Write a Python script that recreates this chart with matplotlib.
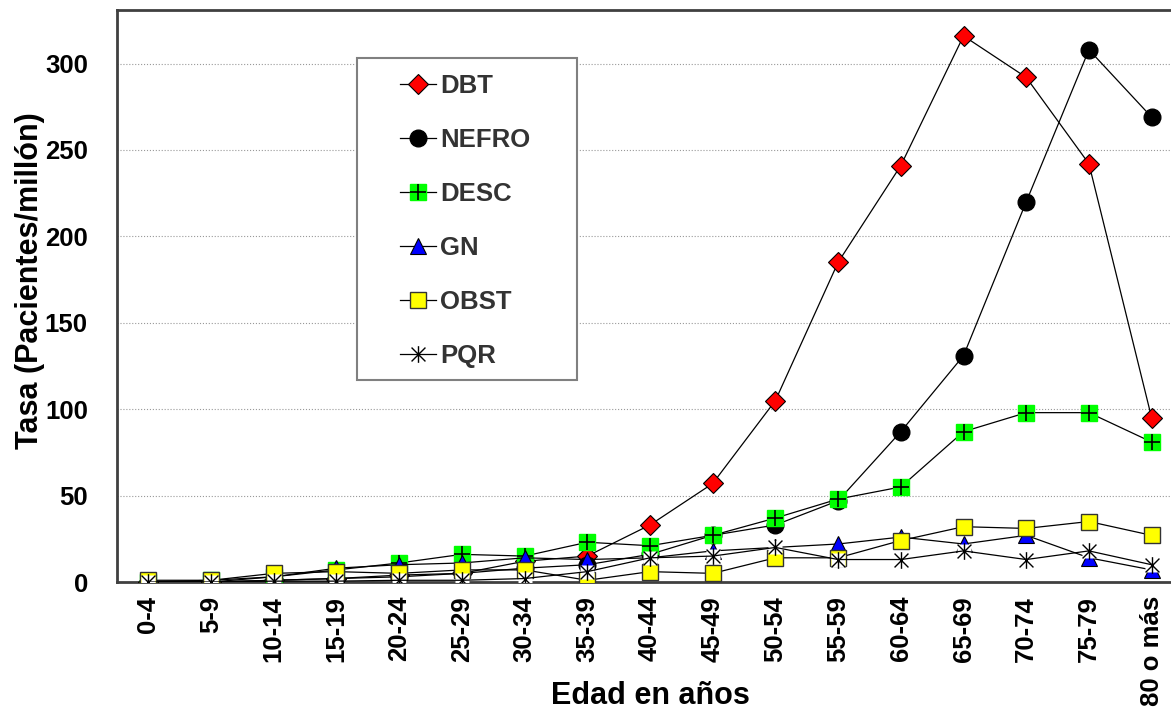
import matplotlib
matplotlib.use("Agg")
import matplotlib.pyplot as plt
from matplotlib.path import Path
from matplotlib.patches import Rectangle
from matplotlib.legend_handler import HandlerTuple

plt.rcParams['font.family'] = ['Liberation Sans', 'DejaVu Sans']
plt.rcParams['font.weight'] = 'bold'

edades = ['0-4', '5-9', '10-14', '15-19', '20-24', '25-29', '30-34', '35-39',
          '40-44', '45-49', '50-54', '55-59', '60-64', '65-69', '70-74',
          '75-79', '80 o más']

dbt = [0, 0, 1, 2, 4, 5, 12, 15, 33, 57, 105, 185, 241, 316, 292, 242, 95]
nefro = [0, 0, 1, 2, 3, 5, 8, 10, 16, 27, 33, 47, 87, 131, 220, 308, 269]
desc = [0, 1, 3, 7, 11, 16, 15, 23, 21, 27, 37, 48, 55, 87, 98, 98, 81]
gn = [0, 0, 3, 8, 10, 11, 14, 13, 14, 18, 20, 22, 26, 22, 27, 14, 7]
obst = [1, 1, 5, 6, 5, 7, 7, 1, 6, 5, 14, 14, 24, 32, 31, 35, 27]
pqr = [0, 0, 0.5, 0.5, 1, 1, 2, 6, 14, 15, 20, 13, 13, 18, 13, 18, 10]

# marcador tipo asterisco de Excel (X con barra vertical)
star = Path([(-1, -1), (1, 1), (-1, 1), (1, -1), (0, -1.2), (0, 1.2)],
            [Path.MOVETO, Path.LINETO, Path.MOVETO, Path.LINETO, Path.MOVETO, Path.LINETO])

x = list(range(len(edades)))
W, H = 1171, 711

fig = plt.figure(figsize=(W / 100, H / 100), dpi=100)
ax = fig.add_axes([117 / W, 129 / H, 1066 / W, 572 / H])

lw = 0.9
h_dbt, = ax.plot(x, dbt, color='black', lw=lw, marker='D', ms=10, mfc='red', mec='black', mew=0.8, zorder=3)
h_nef, = ax.plot(x, nefro, color='black', lw=lw, marker='o', ms=12, mfc='black', mec='black', zorder=3)
h_desc, = ax.plot(x, desc, color='black', lw=lw, marker='s', ms=11, mfc='#00ff00', mec='#00ff00', zorder=3)
h_desc2, = ax.plot(x, desc, ls='none', marker='+', ms=12, mec='black', mew=1.2, zorder=3)
h_gn, = ax.plot(x, gn, color='black', lw=lw, marker='^', ms=11, mfc='#0000ff', mec='black', mew=0.8, zorder=3)
h_obst, = ax.plot(x, obst, color='black', lw=lw, marker='s', ms=11, mfc='#ffff00', mec='#333333', mew=1, zorder=3)
ax.plot(x, pqr, ls='none', marker='s', ms=10, mfc='white', mec='none', zorder=3)
h_pqr, = ax.plot(x, pqr, color='black', lw=lw, marker=star, ms=12, mec='black', mew=1, zorder=3)

ax.set_xlim(-0.5, len(edades) - 0.5)
ax.set_ylim(0, 331)
ax.set_yticks([0, 50, 100, 150, 200, 250, 300])
ax.set_xticks(x)
ax.set_xticklabels(edades, rotation=90, fontsize=18.5, fontweight='bold')
ax.tick_params(axis='y', labelsize=18.5, length=0, pad=21)
ax.tick_params(axis='x', length=0, pad=10)
ax.yaxis.grid(True, color='#999999', ls=':', lw=0.8)
ax.set_axisbelow(True)
for s in ax.spines.values():
    s.set_color('#404040')
    s.set_linewidth(2)

fig.text(650 / W, 1 - 696 / H, 'Edad en años', fontsize=22, fontweight='bold',
         ha='center', va='center')
fig.text(30 / W, 1 - 281 / H, 'Tasa (Pacientes/millón)', fontsize=22, fontweight='bold',
         ha='center', va='center', rotation=90)

# caja de la leyenda dibujada aparte (relleno horizontal mayor que vertical)
caja = Rectangle((357 / W, 1 - 380 / H), 220 / W, 322 / H, transform=fig.transFigure,
                 facecolor='white', edgecolor='#808080', lw=1.5, zorder=4, clip_on=False)
ax.add_patch(caja)

leg = ax.legend([h_dbt, h_nef, (h_desc, h_desc2), h_gn, h_obst, h_pqr],
                ['DBT', 'NEFRO', 'DESC', 'GN', 'OBST', 'PQR'],
                handler_map={tuple: HandlerTuple(ndivide=1, pad=0)},
                loc='upper left', bbox_to_anchor=(400 / W, 1 - 74 / H),
                bbox_transform=fig.transFigure,
                fontsize=18.5, frameon=False, labelspacing=1.17, borderpad=0,
                handlelength=1.4, handletextpad=0.15, borderaxespad=0, numpoints=1)
leg.set_zorder(5)
for t in leg.get_texts():
    t.set_color('#333333')

fig.savefig('out.png', dpi=100)
